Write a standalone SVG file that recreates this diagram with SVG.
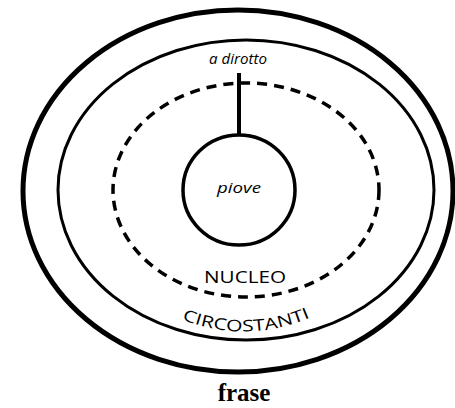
<svg xmlns="http://www.w3.org/2000/svg" width="455" height="408" viewBox="0 0 455 408">
<style>
.ln{fill:none;stroke:#000}
.it{font-family:"Open Sans","Liberation Sans",sans-serif;font-style:italic;fill:#000;text-anchor:middle}
.cap{font-family:"Open Sans","Liberation Sans",sans-serif;fill:#000;text-anchor:middle}
</style>
<defs>
<path id="arc" d="M 158 308 Q 245 356 334 306"/>
</defs>
<rect width="455" height="408" fill="#fff"/>
<g id="frase">
<ellipse class="ln" cx="238" cy="191" rx="215" ry="181" stroke-width="5"/>
<text x="244" y="401" font-family="'Liberation Serif',serif" font-weight="bold" font-size="25" text-anchor="middle">frase</text>
</g>
<g id="circostanti">
<ellipse class="ln" cx="246" cy="190" rx="188" ry="150" stroke-width="3"/>
<text class="cap" font-size="16"><textPath href="#arc" startOffset="50%" textLength="132" lengthAdjust="spacingAndGlyphs">CIRCOSTANTI</textPath></text>
</g>
<g id="nucleo">
<ellipse class="ln" cx="246" cy="190" rx="133" ry="107" stroke-width="3.5" stroke-dasharray="10 7"/>
<text class="cap" x="245" y="283" font-size="17" textLength="82" lengthAdjust="spacingAndGlyphs">NUCLEO</text>
</g>
<g id="piove">
<ellipse class="ln" cx="239" cy="190" rx="56" ry="55" stroke-width="3.5"/>
<text class="it" x="239" y="193" font-size="14" textLength="44" lengthAdjust="spacingAndGlyphs">piove</text>
</g>
<g id="a-dirotto">
<text class="it" x="238" y="64" font-size="14" textLength="58" lengthAdjust="spacingAndGlyphs">a dirotto</text>
</g>
<g id="connectors">
<line class="ln" x1="239" y1="73" x2="239" y2="135" stroke-width="4"/>
</g>
</svg>
